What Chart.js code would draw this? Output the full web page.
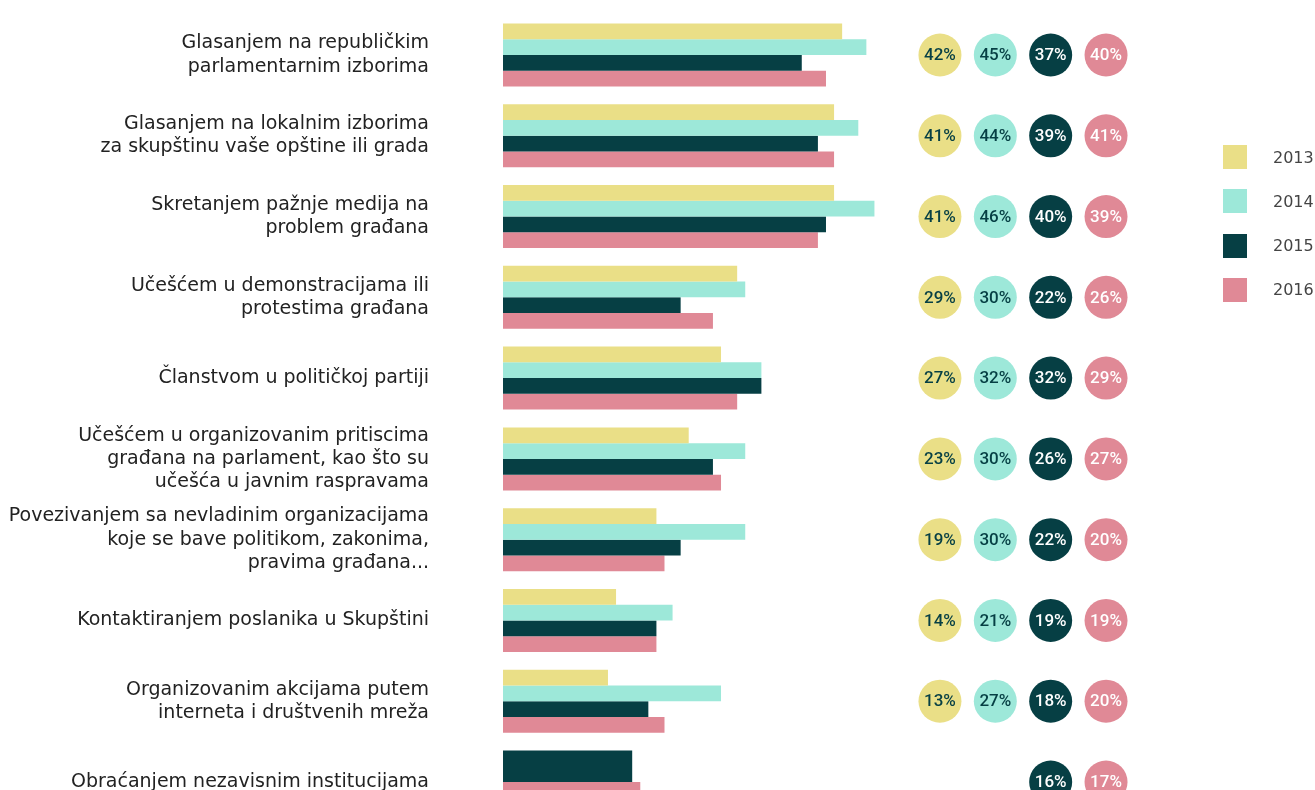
<!DOCTYPE html>
<html>
<head>
<meta charset="utf-8">
<script src="https://cdn.jsdelivr.net/npm/chart.js@4/dist/chart.umd.min.js"></script>
<style>
  html, body { margin: 0; padding: 0; background: #ffffff; }
  #wrap { position: relative; width: 1315px; height: 790px; overflow: hidden; }
  #legend { position: absolute; left: 1223px; top: 145px; font-family: "DejaVu Sans", sans-serif; font-size: 16px; color: #444; }
  .li { display: flex; align-items: center; height: 24px; margin-bottom: 20.3px; white-space: nowrap; }
  .sw { width: 24px; height: 24px; margin-right: 26px; flex: none; }
</style>
</head>
<body>
<div id="wrap">
  <canvas id="c" width="1315" height="790"></canvas>
  <div id="legend"></div>
</div>
<script>
const categories = [
  ["Glasanjem na republičkim", "parlamentarnim izborima"],
  ["Glasanjem na lokalnim izborima", "za skupštinu vaše opštine ili grada"],
  ["Skretanjem pažnje medija na", "problem građana"],
  ["Učešćem u demonstracijama ili", "protestima građana"],
  "Članstvom u političkoj partiji",
  ["Učešćem u organizovanim pritiscima", "građana na parlament, kao što su", "učešća u javnim raspravama"],
  ["Povezivanjem sa nevladinim organizacijama", "koje se bave politikom, zakonima,", "pravima građana..."],
  "Kontaktiranjem poslanika u Skupštini",
  ["Organizovanim akcijama putem", "interneta i društvenih mreža"],
  "Obraćanjem nezavisnim institucijama"
];
const seriesNames = ["2013", "2014", "2015", "2016"];
const values2013 = [42, 41, 41, 29, 27, 23, 19, 14, 13, null];
const values2014 = [45, 44, 46, 30, 32, 30, 30, 21, 27, null];
const values2015 = [37, 39, 40, 22, 32, 26, 22, 19, 18, 16];
const values2016 = [40, 41, 39, 26, 29, 27, 20, 19, 20, 17];
const seriesValues = [values2013, values2014, values2015, values2016];
const colors = ["#eadf87", "#9de8d9", "#063f44", "#e08996"];
const circleTextColors = ["#063f44", "#063f44", "#ffffff", "#ffffff"];

const labelFont = '"DejaVu Sans", sans-serif';
const circleFont = 'Roboto, "DejaVu Sans", sans-serif';

const barDatasets = seriesValues.map((vals, k) => ({
  type: 'bar',
  label: seriesNames[k],
  data: vals,
  backgroundColor: colors[k],
  borderWidth: 0,
  xAxisID: 'x',
  yAxisID: 'y',
  indexAxis: 'y',
  skipNull: true,
  clip: false,
  categoryPercentage: 0.78,
  barPercentage: 1.0
}));

const circleDatasets = seriesValues.map((vals, k) => ({
  type: 'scatter',
  label: seriesNames[k] + ' %',
  circleSeries: k,
  data: vals.map((v, i) => ({ x: v == null ? null : k + 1, y: i })),
  backgroundColor: colors[k],
  pointBackgroundColor: colors[k],
  pointBorderWidth: 0,
  pointRadius: 21.5,
  pointHoverRadius: 21.5,
  clip: false,
  xAxisID: 'x2',
  yAxisID: 'y'
}));

const circleLabels = {
  id: 'circleLabels',
  afterDatasetsDraw(chart) {
    const ctx = chart.ctx;
    ctx.save();
    ctx.font = '500 17px ' + circleFont;
    ctx.textAlign = 'center';
    ctx.textBaseline = 'middle';
    chart.data.datasets.forEach((ds, di) => {
      if (ds.circleSeries === undefined) return;
      const k = ds.circleSeries;
      const meta = chart.getDatasetMeta(di);
      meta.data.forEach((pt, i) => {
        const v = seriesValues[k][i];
        if (v == null) return;
        ctx.fillStyle = circleTextColors[k];
        ctx.fillText(v + '%', pt.x, pt.y + 1);
      });
    });
    ctx.restore();
  }
};

new Chart(document.getElementById('c'), {
  type: 'bar',
  data: { labels: categories, datasets: [...barDatasets, ...circleDatasets] },
  options: {
    responsive: false,
    animation: false,
    events: [],
    indexAxis: 'y',
    layout: { autoPadding: false, padding: { left: 0, top: 55, bottom: 8, right: 137 } },
    plugins: { legend: { display: false }, tooltip: { enabled: false } },
    scales: {
      y: {
        type: 'category',
        offset: false,
        grid: { display: false, drawTicks: false },
        border: { display: false },
        ticks: {
          autoSkip: false,
          padding: 74,
          color: '#222',
          font: { family: labelFont, size: 19, lineHeight: 1.22 }
        },
        afterFit(s) { s.width = 503; s.paddingTop = 0; s.paddingBottom = 0; }
      },
      x: {
        type: 'linear',
        min: 0,
        max: 50,
        display: false,
        stack: 'xs',
        stackWeight: 403.5
      },
      x2: {
        type: 'linear',
        min: 0.4,
        max: 5.3,
        display: false,
        stack: 'xs',
        stackWeight: 271.1
      }
    }
  },
  plugins: [circleLabels]
});

const legendEl = document.getElementById('legend');
seriesNames.forEach((name, k) => {
  const item = document.createElement('div');
  item.className = 'li';
  const sw = document.createElement('span');
  sw.className = 'sw';
  sw.style.background = colors[k];
  const tx = document.createElement('span');
  tx.textContent = name;
  item.appendChild(sw);
  item.appendChild(tx);
  legendEl.appendChild(item);
});
</script>
</body>
</html>
